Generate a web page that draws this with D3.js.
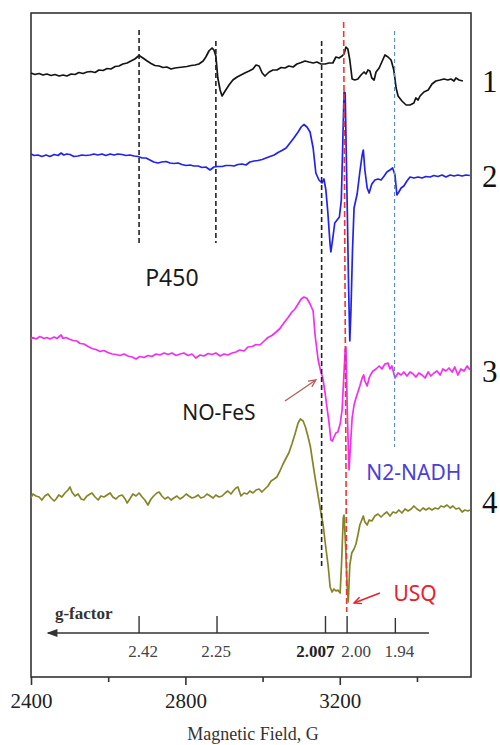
<!DOCTYPE html>
<html>
<head>
<meta charset="utf-8">
<script src="https://cdn.jsdelivr.net/npm/d3@7"></script>
<style>
    body { margin: 0; background: #fff; }
    svg { display: block; }
</style>
</head>
<body>
<div id="chart"></div>
<script>
// EPR spectra, [magnetic field (G), signal (a.u.)]
let spectrum1 = [
    [2400,1],[2410,-0.5],[2421,0.5],[2431,-1],[2441,0],[2452,-1.5],[2462,-0.5],[2473,-2],[2483,-1],[2493,-2],
    [2504,0],[2514,-0.5],[2524,1.5],[2535,0.5],[2545,2],[2555,2.5],[2566,1.5],[2576,4],[2587,3.5],[2597,5.5],
    [2607,5],[2618,7.5],[2628,8],[2638,10],[2649,11],[2659,13],[2669,15],[2680,18.5],[2690,16],[2701,13],
    [2711,10.5],[2721,8.5],[2732,8],[2742,6.5],[2752,7],[2763,5],[2773,6],[2783,6.5],[2794,7],[2804,7.5],
    [2815,8.5],[2825,9],[2835,10],[2846,13],[2853,17],[2861,23],[2869,26],[2874,24],[2879,18],[2884,-4],
    [2890,-16],[2895,-22],[2903,-17],[2913,-11],[2923,-6],[2934,-3],[2944,-1],[2954,1],[2965,3],[2975,5],
    [2983,9],[2991,8],[2999,1],[3006,-2],[3017,2],[3027,4],[3037,4],[3048,6.5],[3058,6],[3068,8],
    [3079,7],[3089,10],[3100,11.5],[3110,13],[3120,12],[3131,11],[3141,12],[3151,10],[3162,10],[3172,11],
    [3182,11],[3190,17],[3198,16],[3206,18],[3211,20],[3216,27],[3221,25],[3226,14],[3232,-5],[3239,-6],
    [3247,-5],[3255,-1],[3263,2],[3268,0],[3273,4],[3278,3],[3283,-4],[3289,-6],[3294,2],[3302,6],
    [3309,12],[3317,19],[3325,17],[3333,14],[3340,4],[3346,-14],[3351,-22],[3361,-27],[3372,-31],[3382,-31],
    [3392,-29],[3397,-24],[3403,-26],[3408,-22],[3418,-18],[3429,-16],[3439,-10],[3449,-7],[3460,-6],[3470,-5],
    [3480,-6],[3488,-5],[3496,-7],[3501,-4],[3509,-6],[3519,-7]
];

let spectrum2 = [
    [2400,1],[2408,-0.5],[2418,0],[2428,-1.5],[2439,0],[2449,-1.5],[2460,0.5],[2470,-0.5],[2478,2],[2485,0],
    [2493,1],[2501,0.5],[2511,-1.5],[2522,-1],[2532,0],[2542,-0.5],[2553,0],[2563,1],[2573,0],[2584,1],
    [2594,-0.5],[2605,1],[2615,0],[2625,1],[2636,0.5],[2646,-0.5],[2656,0],[2667,-1],[2677,-1.5],[2688,-3],
    [2698,-3],[2708,-5],[2718,-7],[2729,-8],[2739,-7],[2750,-6.5],[2760,-8],[2770,-8.5],[2781,-8],[2791,-9.5],
    [2802,-10.5],[2812,-10],[2822,-11],[2833,-11],[2843,-12.5],[2853,-12],[2864,-15],[2874,-12],[2884,-11.5],[2895,-11.5],
    [2905,-10.5],[2916,-10.5],[2926,-11],[2936,-9.5],[2947,-9],[2957,-10],[2967,-7],[2978,-6],[2988,-5.5],[2999,-4.5],
    [3009,-3],[3019,-1.5],[3030,0],[3040,2.5],[3050,4.5],[3061,7],[3071,12],[3081,17],[3092,23],[3100,28],
    [3107,30.5],[3115,28],[3123,23],[3131,7],[3138,-18],[3146,-25],[3154,-28],[3159,-24],[3164,-35],[3169,-57],
    [3175,-90],[3177,-97],[3182,-83],[3187,-68],[3193,-65],[3199,-62],[3204,-45],[3208,15],[3211,63],[3214,62],
    [3219,-45],[3223,-135],[3226,-186],[3229,-155],[3233,-95],[3237,-53],[3245,-39],[3252,-17],[3258,0],[3261,5],
    [3265,-15],[3271,-33],[3276,-38],[3283,-29],[3291,-25],[3299,-24],[3307,-25],[3315,-21],[3322,-17],[3330,-15],
    [3337,-13],[3343,-20],[3348,-40],[3353,-37],[3359,-33],[3366,-31],[3374,-26],[3382,-22],[3392,-23],[3403,-22],
    [3413,-23],[3423,-21.5],[3434,-22],[3444,-20.5],[3454,-21.5],[3465,-20],[3475,-22],[3486,-20],[3496,-21],[3506,-20],
    [3517,-21],[3527,-20],[3537,-20.5]
];

let spectrum3 = [
    [2400,1],[2405,2.5],[2413,1],[2423,3.5],[2434,1.5],[2441,2.5],[2449,1],[2460,3],[2467,1.5],[2478,5],
    [2483,1.5],[2491,2.5],[2498,1],[2509,-0.5],[2519,-1],[2527,-3.5],[2537,-4],[2548,-6.5],[2558,-8.5],[2568,-9.5],
    [2579,-11.5],[2589,-10.5],[2599,-12.5],[2610,-14],[2620,-14.5],[2631,-15.5],[2641,-14],[2651,-16],[2662,-17],[2672,-19],
    [2682,-16.5],[2693,-17.5],[2703,-15.5],[2713,-16.5],[2724,-14],[2734,-15],[2745,-13],[2755,-14.5],[2765,-13],[2776,-15.5],
    [2786,-14],[2796,-13],[2807,-15.5],[2817,-14],[2827,-18],[2838,-15],[2848,-16],[2859,-13.5],[2869,-14.5],[2879,-13],
    [2890,-16],[2900,-14],[2910,-15],[2921,-13],[2931,-12],[2941,-10],[2952,-11],[2962,-7],[2973,-6.5],[2983,-4.5],
    [2993,-5],[3004,-1],[3014,2.5],[3024,4.5],[3035,8],[3045,11.5],[3056,17.5],[3066,22.5],[3076,28],[3084,31],
    [3092,36],[3100,41],[3107,43],[3115,41.5],[3123,36],[3131,29],[3136,5],[3144,-20],[3151,-32],[3156,-38],
    [3162,-53],[3167,-68],[3172,-82],[3177,-100],[3181,-101],[3185,-97],[3190,-93],[3195,-92],[3201,-84],[3206,-70],
    [3210,-40],[3214,-10],[3216,-7],[3220,-80],[3224,-130],[3227,-110],[3232,-78],[3237,-65],[3242,-58],[3247,-52],
    [3252,-46],[3258,-38],[3262,-35],[3265,-41],[3271,-46],[3276,-38],[3281,-34],[3286,-31],[3294,-29],[3302,-26],
    [3309,-29],[3317,-24],[3325,-23],[3330,-29],[3335,-26],[3343,-38],[3351,-33],[3359,-35],[3366,-32],[3374,-36],
    [3382,-32],[3390,-34],[3397,-37],[3405,-33],[3413,-35],[3421,-38],[3429,-32],[3436,-36],[3444,-33],[3452,-31],
    [3460,-35],[3467,-29],[3475,-31],[3483,-28],[3491,-32],[3498,-27],[3506,-35],[3514,-29],[3522,-31],[3530,-26],
    [3537,-30]
];

let spectrum4 = [
    [2400,0],[2405,4],[2413,2],[2421,1],[2428,-2],[2436,2],[2444,4],[2452,0],[2460,-3],[2465,-1],
    [2472,3],[2480,1],[2488,5],[2496,8],[2501,11],[2506,6],[2514,2],[2522,4],[2530,-1],[2537,-2],
    [2545,2],[2553,4],[2558,5],[2566,1],[2574,-2],[2581,2],[2589,1],[2597,3],[2605,5],[2612,1],
    [2620,-1],[2628,2],[2636,3],[2644,-1],[2649,-5],[2656,-1],[2664,4],[2672,2],[2680,5],[2688,1],
    [2695,-2],[2703,-7],[2711,-1],[2718,2],[2726,5],[2732,6],[2739,2],[2747,-1],[2755,1],[2763,-2],
    [2770,0],[2778,2],[2786,-1],[2794,1],[2802,4],[2809,2],[2817,0],[2825,1],[2833,3],[2840,0],
    [2848,1],[2856,4],[2864,2],[2872,0],[2879,3],[2887,1],[2895,2],[2903,5],[2910,7],[2918,4],
    [2926,8],[2931,10],[2936,11],[2944,2],[2952,5],[2960,4],[2967,7],[2975,5],[2983,8],[2991,9],
    [2998,6],[3006,9],[3014,12],[3022,17],[3030,19],[3037,21],[3045,27],[3053,34],[3061,40],[3068,45],
    [3076,54],[3084,64],[3092,75],[3098,79],[3105,77],[3111,71],[3118,61],[3124,51],[3131,33],[3137,18],
    [3144,2],[3150,-12],[3157,-27],[3163,-47],[3170,-68],[3175,-89],[3180,-94],[3185,-91],[3190,-93],[3195,-92],
    [3201,-95],[3205,-62],[3209,-20],[3211,-17],[3215,-47],[3219,-87],[3222,-104],[3226,-67],[3231,-55],[3237,-51],
    [3242,-46],[3247,-37],[3252,-27],[3258,-21],[3261,-18],[3265,-24],[3271,-27],[3276,-22],[3283,-23],[3291,-18],
    [3299,-16],[3307,-19],[3315,-16],[3322,-14],[3330,-18],[3338,-14],[3346,-15],[3353,-12],[3361,-15],[3369,-11],
    [3377,-13],[3385,-11],[3392,-8],[3400,-11],[3408,-13],[3416,-10],[3423,-12],[3431,-10],[3439,-12],[3447,-10],
    [3455,-11],[3462,-8],[3470,-9],[3478,-7],[3486,-10],[3493,-8],[3501,-11],[3509,-10],[3517,-14],[3524,-12],
    [3532,-13],[3537,-12]
];

let spectra = [spectrum1, spectrum2, spectrum3, spectrum4];
let spectrumNames = ["1", "2", "3", "4"];
let baselines = [603, 522, 337, 179];

let fieldTicks = [2400, 2800, 3200];
let fieldMinorTicks = [2600, 3000, 3400];

let gFactorLabels = ["2.42", "2.25", "2.007", "2.00", "1.94"];
let gFactorFields = [2680, 2882, 3163, 3219, 3344];

// dashed guide lines: field at top, field at bottom
let guideFieldsTop = [2680, 2879, 3153, 3210, 3342];
let guideFieldsBottom = [2680, 2879, 3153, 3218, 3342];

function drawChart() {
    let colours = ["#141414", "#2222ee", "#f030f0", "#858528"];
    let left = 31, right = 471, top = 13, bottom = 677;
    let serif = "'Liberation Serif', 'Times New Roman', serif";
    let sans = "'Noto Sans', 'Open Sans', sans-serif";

    let svg = d3.select("#chart")
        .append("svg")
        .attr("width", 500)
        .attr("height", 745);

    let x = d3.scaleLinear().domain([2400, 3540]).range([left, right]);
    let y = d3.scaleLinear().domain([0, 664]).range([bottom, top]);

    // frame
    svg.append("rect")
        .attr("x", left).attr("y", top)
        .attr("width", right - left).attr("height", bottom - top)
        .attr("fill", "none")
        .attr("stroke", "#333")
        .attr("stroke-width", 1.6);

    // spectra
    spectra.forEach((data, i) => {
        let line = d3.line()
            .x(d => x(d[0]))
            .y(d => y(baselines[i] + d[1]));
        svg.append("path")
            .datum(data)
            .attr("d", line)
            .attr("fill", "none")
            .attr("stroke", colours[i])
            .attr("stroke-width", 1.7)
            .attr("stroke-linejoin", "round");
    });

    // dashed guides
    let guideTops = [647, 636, 636, 655, 646];
    let guideBottoms = [434, 434, 109, 65, 230];
    let guideColours = ["#222", "#222", "#222", "#f03535", "#5b8cc6"];
    let guideWidths = [1.6, 1.6, 1.6, 1.6, 1.1];
    let guideDash = ["5,3", "5,3", "5,3", "6,3", "4,3"];
    guideFieldsTop.forEach((f, i) => {
        svg.append("line")
            .attr("x1", x(f)).attr("y1", y(guideTops[i]))
            .attr("x2", x(guideFieldsBottom[i])).attr("y2", y(guideBottoms[i]))
            .attr("stroke", guideColours[i])
            .attr("stroke-width", guideWidths[i])
            .attr("stroke-dasharray", guideDash[i]);
    });

    // field axis
    let axis = svg.append("g").attr("transform", `translate(0,${bottom})`);
    axis.call(d3.axisBottom(x).tickValues(fieldTicks).tickSize(8).tickPadding(8).tickFormat(d3.format("d")));
    axis.append("g").call(d3.axisBottom(x).tickValues(fieldMinorTicks).tickSize(5).tickFormat(""));
    axis.selectAll(".domain").remove();
    axis.selectAll("line").attr("stroke", "#333").attr("stroke-width", 1.6);
    axis.selectAll("text")
        .attr("fill", "#222")
        .style("font-family", serif)
        .style("font-size", "21px");

    svg.append("text")
        .attr("x", 253).attr("y", 740)
        .attr("text-anchor", "middle")
        .style("font-family", serif)
        .style("font-size", "18px")
        .attr("fill", "#333")
        .text("Magnetic Field, G");

    // g-factor scale drawn inside the frame
    let gY = y(44);
    svg.append("line")
        .attr("x1", x(2444)).attr("y1", gY)
        .attr("x2", x(3431)).attr("y2", gY)
        .attr("stroke", "#333").attr("stroke-width", 1.6);
    svg.append("path")
        .attr("d", `M${x(2440)},${gY} l11,-4 l0,8 z`)
        .attr("fill", "#333");
    svg.selectAll(".gtick")
        .data(gFactorFields)
        .enter()
        .append("line")
        .attr("x1", d => x(d)).attr("x2", d => x(d))
        .attr("y1", gY).attr("y2", (d, i) => y(i == 4 ? 59 : 61))
        .attr("stroke", "#333").attr("stroke-width", 1.4);
    let gDx = [4, -1, -10, 9, 4];
    svg.selectAll(".glabel")
        .data(gFactorLabels)
        .enter()
        .append("text")
        .attr("x", (d, i) => x(gFactorFields[i]) + gDx[i])
        .attr("y", y(20))
        .attr("text-anchor", "middle")
        .style("font-family", serif)
        .style("font-size", "17px")
        .style("font-weight", (d, i) => i == 2 ? "bold" : "normal")
        .attr("fill", (d, i) => i == 2 ? "#222" : "#444")
        .text(d => d);
    svg.append("text")
        .attr("x", x(2462)).attr("y", y(58))
        .style("font-family", serif)
        .style("font-size", "17px")
        .style("font-weight", "bold")
        .attr("fill", "#333")
        .text("g-factor");

    // spectrum numbers on the right
    let nameHeights = [585, 490, 295, 164];
    svg.selectAll(".name")
        .data(spectrumNames)
        .enter()
        .append("text")
        .attr("x", 482)
        .attr("y", (d, i) => y(nameHeights[i]))
        .style("font-family", serif)
        .style("font-size", "31px")
        .attr("fill", "#111")
        .text(d => d);

    // annotations
    function note(text, field, h, colour, size) {
        svg.append("text")
            .attr("x", x(field)).attr("y", y(h))
            .attr("text-anchor", "middle")
            .style("font-family", sans)
            .style("font-size", size + "px")
            .attr("fill", colour)
            .text(text);
    }
    function arrow(f1, h1, f2, h2, colour) {
        let x1 = x(f1), y1 = y(h1), x2 = x(f2), y2 = y(h2);
        let a = Math.atan2(y2 - y1, x2 - x1);
        let len = 8;
        let g = svg.append("g")
            .attr("stroke", colour)
            .attr("stroke-width", 1.4)
            .attr("fill", "none");
        g.append("line").attr("x1", x1).attr("y1", y1).attr("x2", x2).attr("y2", y2);
        g.append("path")
            .attr("d", `M${x2 - len * Math.cos(a - 0.45)},${y2 - len * Math.sin(a - 0.45)}
                L${x2},${y2}
                L${x2 - len * Math.cos(a + 0.45)},${y2 - len * Math.sin(a + 0.45)}`);
    }

    note("P450", 2765, 391, "#1a1a1a", 23);
    note("NO-FeS", 2887, 257, "#1a1a1a", 21);
    arrow(3058, 276, 3138, 297, "#b3615d");
    note("N2-NADH", 3392, 197, "#4a40d8", 21);
    note("USQ", 3395, 76, "#e8202a", 21);
    arrow(3304, 84, 3237, 74, "#e8202a");
}

drawChart();
</script>
</body>
</html>
